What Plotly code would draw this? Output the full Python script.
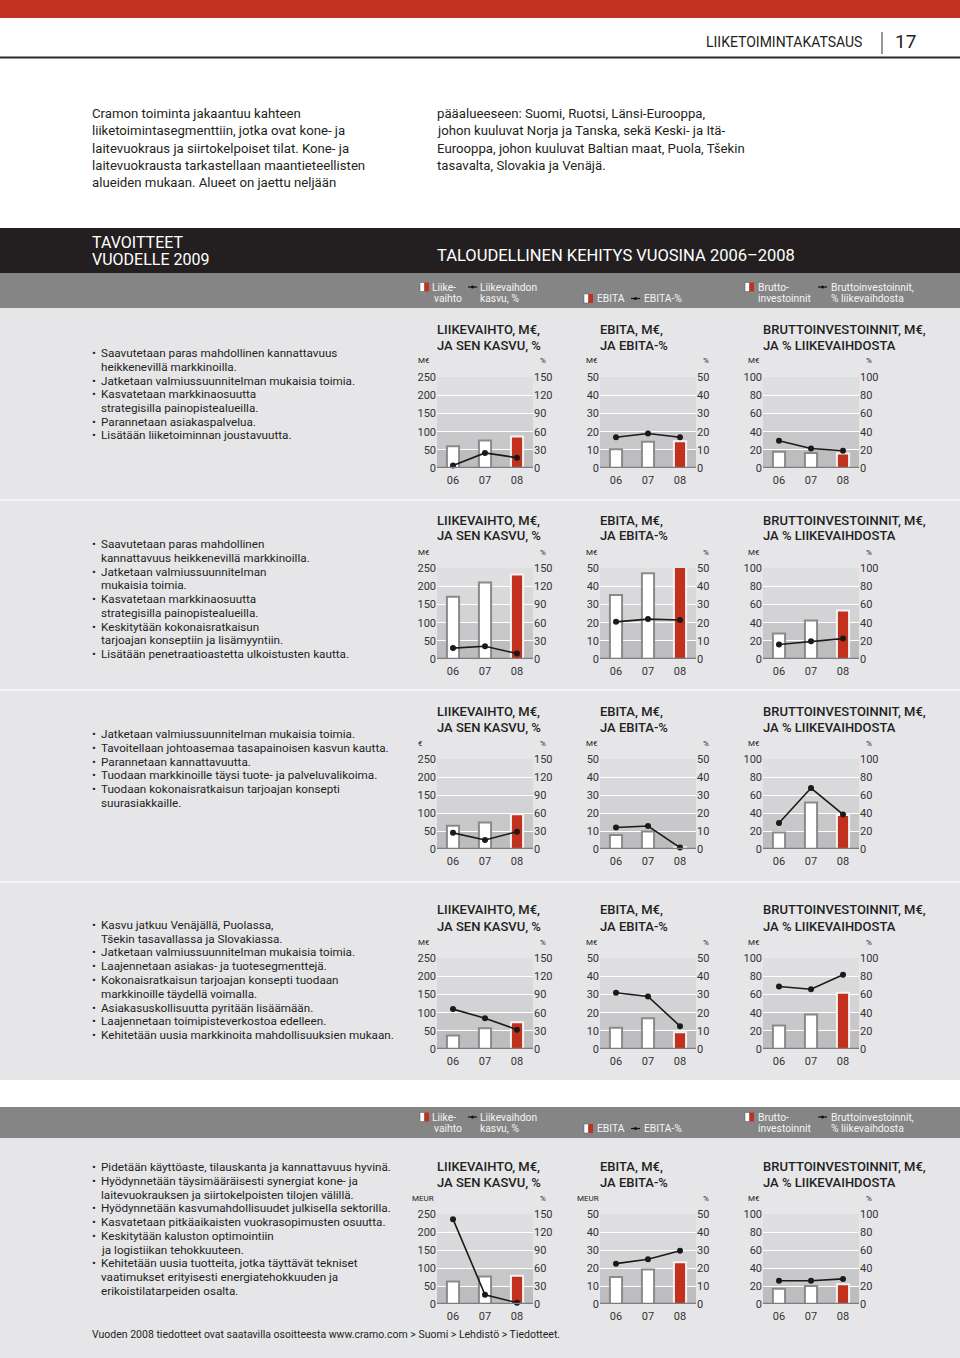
import plotly.graph_objects as go

W, H = 960, 1358
RED = "#C1311E"
DARK = "#231F20"
ROWBG = "#E6E6E8"
FONT = "Roboto"

years = ["06", "07", "08"]

# ---- data ----
r1_liikevaihto = [60, 76, 87]
r1_kasvu = [4, 25, 17]
r1_ebita = [10.3, 14.5, 14.8]
r1_ebita_pct = [17, 19, 17]
r1_brutto = [18, 16.5, 16]
r1_brutto_pct = [30, 21.5, 19]

r2_liikevaihto = [172, 211, 233]
r2_kasvu = [18, 21, 9]
r2_ebita = [35.3, 47.3, 50.7]
r2_ebita_pct = [20.5, 22, 21.5]
r2_brutto = [28, 42.5, 53.5]
r2_brutto_pct = [16, 19.5, 22.5]

r3_liikevaihto = [65, 74, 97]
r3_kasvu = [27, 15, 29]
r3_ebita = [7.8, 9.8, 1]
r3_ebita_pct = [12, 12.8, 0.8]
r3_brutto = [18.5, 52, 38]
r3_brutto_pct = [29, 68, 38.5]

r4_liikevaihto = [37, 57, 74]
r4_kasvu = [66, 51, 32]
r4_ebita = [11.7, 17, 9.3]
r4_ebita_pct = [31, 29, 12.6]
r4_brutto = [26, 38, 62]
r4_brutto_pct = [69, 66, 82]

r5_liikevaihto = [63, 76.5, 79]
r5_kasvu = [142, 15.5, 2]
r5_ebita = [15, 19.2, 23.3]
r5_ebita_pct = [22.5, 25, 29.7]
r5_brutto = [17, 20, 22]
r5_brutto_pct = [26, 26, 28]

chart_titles = [
    ["LIIKEVAIHTO, M€,", "JA SEN KASVU, %"],
    ["EBITA, M€,", "JA EBITA-%"],
    ["BRUTTOINVESTOINNIT, M€,", "JA % LIIKEVAIHDOSTA"],
]
left_max = [250, 50, 100]
left_step = [50, 10, 20]
right_max = [150, 50, 100]
right_step = [30, 10, 20]

unit_labels = [
    ["M€", "M€", "M€"],
    ["M€", "M€", "M€"],
    ["€", "M€", "M€"],
    ["M€", "M€", "M€"],
    ["MEUR", "MEUR", "M€"],
]

rows_data = [
    [(r1_liikevaihto, r1_kasvu), (r1_ebita, r1_ebita_pct), (r1_brutto, r1_brutto_pct)],
    [(r2_liikevaihto, r2_kasvu), (r2_ebita, r2_ebita_pct), (r2_brutto, r2_brutto_pct)],
    [(r3_liikevaihto, r3_kasvu), (r3_ebita, r3_ebita_pct), (r3_brutto, r3_brutto_pct)],
    [(r4_liikevaihto, r4_kasvu), (r4_ebita, r4_ebita_pct), (r4_brutto, r4_brutto_pct)],
    [(r5_liikevaihto, r5_kasvu), (r5_ebita, r5_ebita_pct), (r5_brutto, r5_brutto_pct)],
]

row_texts = [
    ["• Saavutetaan paras mahdollinen kannattavuus", "heikkenevillä markkinoilla.",
     "• Jatketaan valmiussuunnitelman mukaisia toimia.",
     "• Kasvatetaan markkinaosuutta", "strategisilla painopistealueilla.",
     "• Parannetaan asiakaspalvelua.",
     "• Lisätään liiketoiminnan joustavuutta."],
    ["• Saavutetaan paras mahdollinen", "kannattavuus heikkenevillä markkinoilla.",
     "• Jatketaan valmiussuunnitelman", "mukaisia toimia.",
     "• Kasvatetaan markkinaosuutta", "strategisilla painopistealueilla.",
     "• Keskitytään kokonaisratkaisun", "tarjoajan konseptiin ja lisämyyntiin.",
     "• Lisätään penetraatioastetta ulkoistusten kautta."],
    ["• Jatketaan valmiussuunnitelman mukaisia toimia.",
     "• Tavoitellaan johtoasemaa tasapainoisen kasvun kautta.",
     "• Parannetaan kannattavuutta.",
     "• Tuodaan markkinoille täysi tuote- ja palveluvalikoima.",
     "• Tuodaan kokonaisratkaisun tarjoajan konsepti", "suurasiakkaille."],
    ["• Kasvu jatkuu Venäjällä, Puolassa,", "Tšekin tasavallassa ja Slovakiassa.",
     "• Jatketaan valmiussuunnitelman mukaisia toimia.",
     "• Laajennetaan asiakas- ja tuotesegmenttejä.",
     "• Kokonaisratkaisun tarjoajan konsepti tuodaan", "markkinoille täydellä voimalla.",
     "• Asiakasuskollisuutta pyritään lisäämään.",
     "• Laajennetaan toimipisteverkostoa edelleen.",
     "• Kehitetään uusia markkinoita mahdollisuuksien mukaan."],
    ["• Pidetään käyttöaste, tilauskanta ja kannattavuus hyvinä.",
     "• Hyödynnetään täysimääräisesti synergiat kone- ja",
     "laitevuokrauksen ja siirtokelpoisten tilojen välillä.",
     "• Hyödynnetään kasvumahdollisuudet julkisella sektorilla.",
     "• Kasvatetaan pitkäaikaisten vuokrasopimusten osuutta.",
     "• Keskitytään kaluston optimointiin", "ja logistiikan tehokkuuteen.",
     "• Kehitetään uusia tuotteita, jotka täyttävät tekniset",
     "vaatimukset erityisesti energiatehokkuuden ja",
     "erikoistilatarpeiden osalta."],
]

intro_left = ["Cramon toiminta jakaantuu kahteen",
              "liiketoimintasegmenttiin, jotka ovat kone- ja",
              "laitevuokraus ja siirtokelpoiset tilat. Kone- ja",
              "laitevuokrausta tarkastellaan maantieteellisten",
              "alueiden mukaan. Alueet on jaettu neljään"]
intro_right = ["pääalueeseen: Suomi, Ruotsi, Länsi-Eurooppa,",
               "johon kuuluvat Norja ja Tanska, sekä Keski- ja Itä-",
               "Eurooppa, johon kuuluvat Baltian maat, Puola, Tšekin",
               "tasavalta, Slovakia ja Venäjä."]

# ---- layout geometry (pixels) ----
chart_x0 = [437, 600, 763]
chart_w = 96
row_top = [377, 568, 759, 958, 1214]
row_bot = [468, 659, 849, 1049, 1304]
text_y0 = [353, 544, 734, 925, 1167]
line_h = 13.75


def px(x):
    return x / W


def py(y):
    return 1 - y / H


fig = go.Figure()
layout = dict(
    width=W, height=H, margin=dict(l=0, r=0, t=0, b=0, pad=0, autoexpand=False),
    paper_bgcolor="white", plot_bgcolor="rgba(0,0,0,0)",
    showlegend=False, font=dict(family=FONT, color=DARK),
)
shapes = []
annotations = []


def ann(x, y, text, size, color=DARK, anchor="left", weight=None, valign="middle"):
    f = dict(family=FONT, size=size, color=color)
    if weight:
        f["weight"] = weight
    shift = -2 if anchor == "left" else 2
    annotations.append(dict(x=px(x), y=py(y), xref="paper", yref="paper", text=text,
                            showarrow=False, xanchor=anchor, yanchor=valign, font=f,
                            xshift=shift))


def rect(x0, y0, x1, y1, color, line=None):
    shapes.append(dict(type="rect", xref="paper", yref="paper", x0=px(x0), x1=px(x1),
                       y0=py(y1), y1=py(y0), fillcolor=color,
                       line=dict(width=0) if line is None else line, layer="below"))


def hline(x0, x1, y, color, width):
    shapes.append(dict(type="line", xref="paper", yref="paper", x0=px(x0), x1=px(x1),
                       y0=py(y), y1=py(y), line=dict(color=color, width=width), layer="above"))


# ---- page background blocks ----
rect(0, 0, W, 18, RED)
hline(0, W, 57.5, "#2a2a2a", 2)
shapes.append(dict(type="line", xref="paper", yref="paper", x0=px(882), x1=px(882),
                   y0=py(54), y1=py(32), line=dict(color="#333", width=1)))
ann(862, 42, "LIIKETOIMINTAKATSAUS", 14, anchor="right")
ann(895, 41, "17", 19)

rect(0, 228, W, 273, DARK)
rect(0, 273, W, 308, "#858585")
rect(0, 308, W, 1080, ROWBG)
for ys in [500, 690, 882]:
    hline(0, W, ys, "#f4f4f5", 2)
rect(0, 1107, W, 1138, "#858585")
rect(0, 1138, W, H, ROWBG)

for i, t in enumerate(intro_left):
    ann(92, 113.5 + i * 17.3, t, 13.2)
for i, t in enumerate(intro_right):
    ann(437, 113.5 + i * 17.3, t, 13.2)

ann(92, 242, "TAVOITTEET", 16, color="white")
ann(92, 259, "VUODELLE 2009", 16, color="white")
ann(437, 255, "TALOUDELLINEN KEHITYS VUOSINA 2006–2008", 16.5, color="white")


def legend_band(y1, y2):
    lc = "#f4f4f4"
    sz = 10.3

    def bar_icon(x, y):
        rect(x, y - 4.5, x + 4.5, y + 4.5, "white", line=dict(color="#555", width=0.5))
        rect(x + 4.5, y - 4.5, x + 9, y + 4.5, RED)

    def line_icon(x, y):
        hline(x, x + 9, y, "#111", 1.2)
        shapes.append(dict(type="circle", xref="paper", yref="paper",
                           x0=px(x + 3), x1=px(x + 6), y0=py(y + 1.5), y1=py(y - 1.5),
                           fillcolor="#111", line=dict(width=0)))

    bar_icon(420, y1)
    ann(432, y1, "Liike-", sz, lc)
    ann(434, y2, "vaihto", sz, lc)
    line_icon(468, y1)
    ann(480, y1, "Liikevaihdon", sz, lc)
    ann(480, y2, "kasvu, %", sz, lc)
    bar_icon(584, y2)
    ann(597, y2, "EBITA", sz, lc)
    line_icon(631, y2)
    ann(644, y2, "EBITA-%", sz, lc)
    bar_icon(745, y1)
    ann(758, y1, "Brutto-", sz, lc)
    ann(758, y2, "investoinnit", sz, lc)
    line_icon(818, y1)
    ann(831, y1, "Bruttoinvestoinnit,", sz, lc)
    ann(831, y2, "% liikevaihdosta", sz, lc)


legend_band(287, 298.5)
legend_band(1117, 1128.5)

# bullet texts
for r, lines in enumerate(row_texts):
    for i, t in enumerate(lines):
        y = text_y0[r] + i * line_h
        if t.startswith("• "):
            ann(91.5, y, "•", 11.7)
            ann(101, y, t[2:], 11.7)
        else:
            ann(101, y, t, 11.7)

ann(92, 1334, "Vuoden 2008 tiedotteet ovat saatavilla osoitteesta www.cramo.com > Suomi > Lehdistö > Tiedotteet.", 10.5)

band_colors = ["#bdbdbf", "#c8c8ca", "#d3d3d5", "#d9d9db", "#dfdfe1"]
unit_x = [[418, 586, 748], [412, 577, 748]]
pct_x = [540, 703, 866]

k = 0
for r in range(5):
    for c in range(3):
        xn = k + 1
        yl = 2 * k + 1
        yr = 2 * k + 2
        xs = "" if xn == 1 else str(xn)
        yls = "" if yl == 1 else str(yl)
        yrs = str(yr)
        x0 = chart_x0[c]
        dom_x = [px(x0), px(x0 + chart_w)]
        dom_y = [py(row_bot[r]), py(row_top[r])]
        layout[f"xaxis{xs}"] = dict(
            domain=dom_x, anchor=f"y{yls}", type="category",
            categoryorder="array", categoryarray=years, range=[-0.5, 2.5],
            showgrid=False, zeroline=False, showline=False, automargin=False,
            ticks="outside", ticklen=2, tickcolor="rgba(0,0,0,0)",
            tickfont=dict(family=FONT, size=11, color="#333"), fixedrange=True)
        lm, rm = left_max[c], right_max[c]
        layout[f"yaxis{yls}"] = dict(
            domain=dom_y, anchor=f"x{xs}", range=[0, lm * 1.004],
            tickvals=list(range(0, lm + 1, left_step[c])), automargin=False,
            showgrid=True, gridcolor="#ffffff", gridwidth=1.2,
            zeroline=False, showline=False, ticks="",
            tickfont=dict(family=FONT, size=11, color="#333"), fixedrange=True)
        layout[f"yaxis{yrs}"] = dict(
            overlaying=f"y{yls}", side="right", anchor=f"x{xs}", range=[0, rm * 1.004],
            tickvals=list(range(0, rm + 1, right_step[c])), automargin=False,
            showgrid=False, zeroline=False, showline=False, ticks="",
            tickfont=dict(family=FONT, size=11, color="#333"), fixedrange=True)
        for b in range(5):
            shapes.append(dict(type="rect", xref=f"x{xs} domain", yref=f"y{yls} domain",
                               x0=0, x1=1, y0=b / 5, y1=(b + 1) / 5,
                               fillcolor=band_colors[b], line=dict(width=0), layer="below"))
        shapes.append(dict(type="line", xref=f"x{xs} domain", yref=f"y{yls}",
                           x0=0, x1=1, y0=0, y1=0,
                           line=dict(color="#7d7d7d", width=2.5), layer="above"))
        bars, pct = rows_data[r][c]
        fig.add_trace(go.Bar(
            x=years, y=bars, xaxis=f"x{xs}", yaxis=f"y{yls}", width=0.38,
            marker=dict(color=["#ffffff", "#ffffff", RED],
                        line=dict(color=["#8a8a8a", "#8a8a8a", "#f3f3f3"], width=2)),
            hoverinfo="skip"))
        fig.add_trace(go.Scatter(
            x=years, y=pct, xaxis=f"x{xs}", yaxis=f"y{yrs}", mode="lines+markers",
            line=dict(color="#1a1a1a", width=1.6), marker=dict(size=6, color="#1a1a1a"),
            cliponaxis=False, hoverinfo="skip"))
        ann(x0, row_top[r] - 48, chart_titles[c][0], 13, weight=500)
        ann(x0, row_top[r] - 32, chart_titles[c][1], 13, weight=500)
        u = unit_labels[r][c]
        ux = unit_x[1][c] if u == "MEUR" else unit_x[0][c]
        ann(ux, row_top[r] - 16, u, 8)
        ann(pct_x[c], row_top[r] - 16, "%", 8)
        k += 1

layout["shapes"] = shapes
layout["annotations"] = annotations
fig.update_layout(**layout)

fig.write_html(
    "out.html", config={"displayModeBar": False},
    post_script="document.documentElement.style.margin='0';document.body.style.margin='0';"
                "document.body.style.padding='0';document.documentElement.style.overflow='hidden';")
